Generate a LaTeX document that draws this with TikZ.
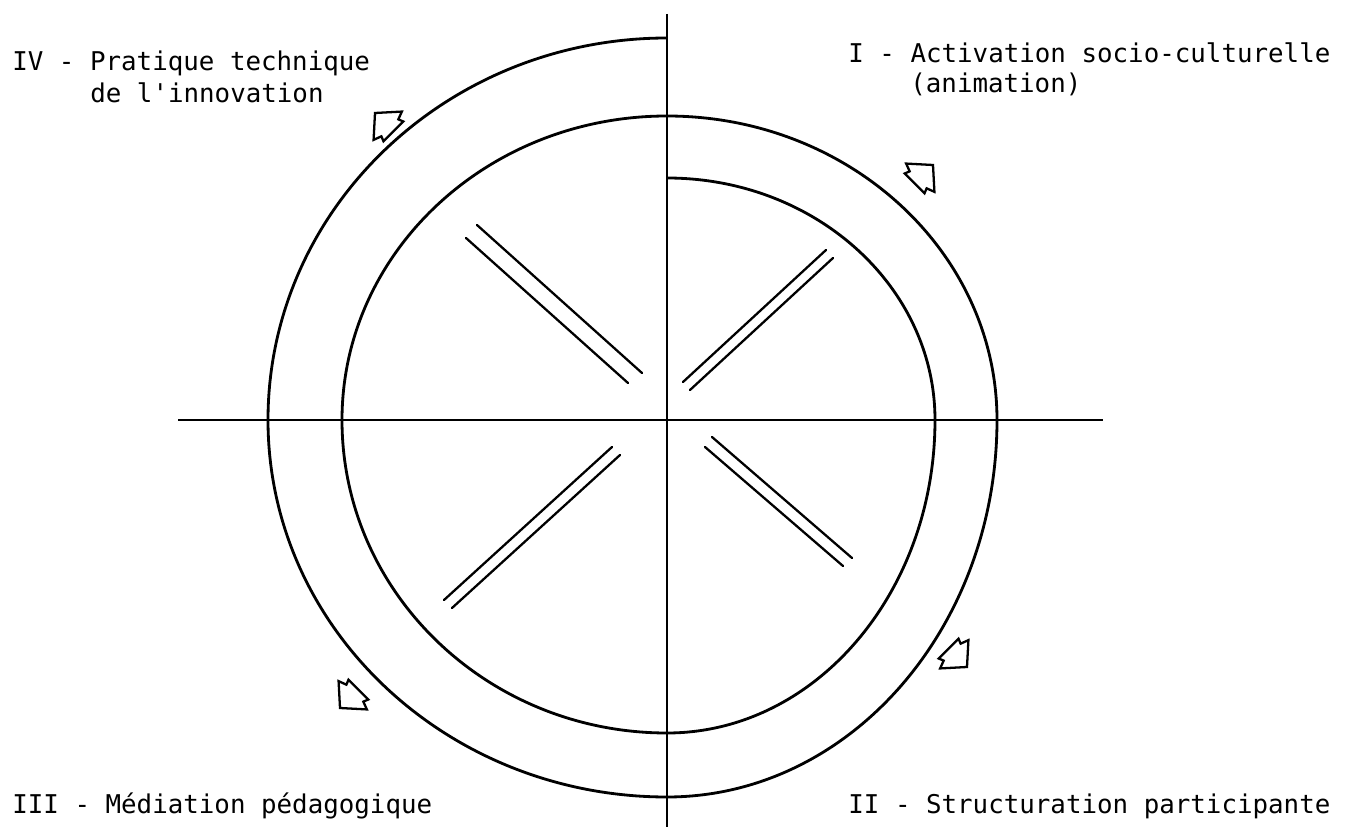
\documentclass[tikz,border=0pt]{standalone}
\usepackage{fontspec}
\setmonofont{DejaVu Sans Mono}
\tikzset{
    % Line styles
    ringline/.style={
        draw=black,
        line width=1.6pt,
        line join=round
    },
    axisline/.style={
        draw=black,
        line width=1.3pt
    },
    spokeline/.style={
        draw=black,
        line width=1.3pt,
        line cap=round
    },
    arrowline/.style={
        draw=black,
        line width=1.3pt
    },
    % Label style
    quadlabel/.style={
        font=\ttfamily\fontsize{14.7}{17}\selectfont,
        anchor=base west,
        inner sep=0pt
    },
    % Hollow arrow, tip at origin
    turnarrow/.pic={
        \draw[arrowline] (0,0) -- (-18,20) -- (-21,12) -- (-26,14) -- (-26,-14) -- (-21,-12) -- (-18,-20) -- cycle;
    }
}
\begin{document}
\begin{tikzpicture}[x=0.02cm, y=-0.02cm]
    \useasboundingbox (0,0) rectangle (1346,827);

    % Axes
    \coordinate (top) at (667,14);
    \coordinate (bottom) at (667,827);
    \coordinate (left) at (178,420);
    \coordinate (right) at (1103,420);
    \draw[axisline] (top) -- (bottom);
    \draw[axisline] (left) -- (right);

    % Spiral ring: outer turn, then inner turn
    \draw[ringline] (667,38)
        arc[start angle=270, end angle=180, x radius=399, y radius=382]
        arc[start angle=180, end angle=90, x radius=399, y radius=377]
        arc[start angle=90, end angle=0, x radius=330, y radius=377]
        arc[start angle=360, end angle=270, x radius=330, y radius=304]
        arc[start angle=270, end angle=180, x radius=325, y radius=304]
        arc[start angle=180, end angle=90, x radius=325, y radius=313]
        arc[start angle=90, end angle=0, x radius=268, y radius=313]
        arc[start angle=360, end angle=270, x radius=268, y radius=242];

    % Double spokes
    \draw[spokeline] (477,225) -- (642,373);
    \draw[spokeline] (466,238) -- (628,383);
    \draw[spokeline] (826,250) -- (683,382);
    \draw[spokeline] (833,258) -- (690,390);
    \draw[spokeline] (712,437) -- (852,558);
    \draw[spokeline] (705,447) -- (843,566);
    \draw[spokeline] (612,447) -- (444,600);
    \draw[spokeline] (620,455) -- (452,608);

    % Hollow arrows
    \pic[rotate=135] at (375,113) {turnarrow};
    \pic[rotate=45] at (933,165) {turnarrow};
    \pic[rotate=-45] at (967,667) {turnarrow};
    \pic[rotate=225] at (340,708) {turnarrow};

    % Quadrant labels
    \node[quadlabel] (quadIV) at (12,71) {IV - Pratique technique};
    \node[quadlabel] (quadIVb) at (90,103) {de l'innovation};
    \node[quadlabel] (quadI) at (848,63) {I - Activation socio-culturelle};
    \node[quadlabel] (quadIb) at (910,93) {(animation)};
    \node[quadlabel] (quadIII) at (12,813) {III - Médiation pédagogique};
    \node[quadlabel] (quadII) at (848,813) {II - Structuration participante};
\end{tikzpicture}
\end{document}
